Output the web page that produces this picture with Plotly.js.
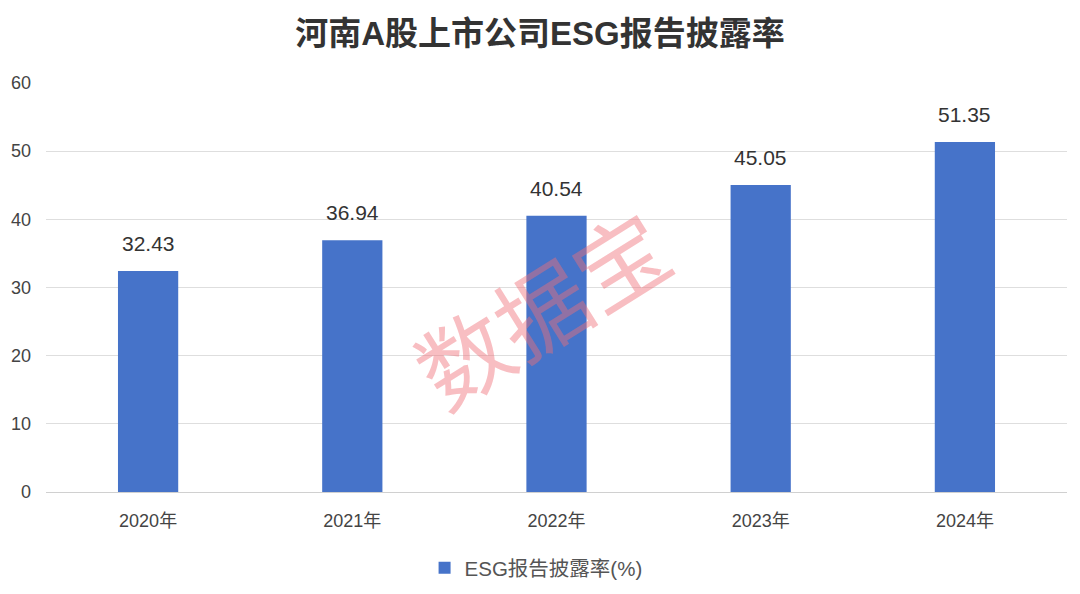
<!DOCTYPE html>
<html>
<head>
<meta charset="utf-8">
<script src="https://cdn.plot.ly/plotly-3.0.1.min.js"></script>
<style>html,body{margin:0;padding:0;background:#fff;}#chart{width:1080px;height:594px;}</style>
</head>
<body>
<div id="chart"></div>
<script>
const categories = ["2020年", "2021年", "2022年", "2023年", "2024年"];
const disclosureRate = [32.43, 36.94, 40.54, 45.05, 51.35];
const seriesName = "ESG报告披露率(%)";
const chartTitle = "河南A股上市公司ESG报告披露率";
const watermark = "数据宝";

const FONT = "'Liberation Sans', Arial, 'Noto Sans CJK SC', sans-serif";

const trace = {
  type: "bar",
  x: categories,
  y: disclosureRate,
  name: seriesName,
  marker: {color: "#4673C9"},
  hoverinfo: "skip"
};

const valueLabels = categories.map((c, i) => ({
  x: c, y: disclosureRate[i], xref: "x", yref: "y",
  text: disclosureRate[i].toFixed(2), showarrow: false,
  yanchor: "bottom", yshift: 14,
  font: {size: 21, color: "#333333", family: FONT}
}));

const layout = {
  width: 1080, height: 594,
  margin: {l: 46, r: 13, t: 83, b: 102},
  paper_bgcolor: "#ffffff", plot_bgcolor: "#ffffff",
  font: {family: FONT, color: "#555555"},
  title: {text: "<b>" + chartTitle + "</b>", x: 0.5, xanchor: "center", y: 0.943, yanchor: "middle",
          font: {size: 33, color: "#333333", family: FONT}},
  bargap: 0.705,
  showlegend: true,
  legend: {orientation: "h", x: 0.48, xanchor: "center", yref: "container", y: 0.044, yanchor: "middle",
           font: {size: 20.5, color: "#555555", family: FONT}},
  xaxis: {type: "category", showgrid: false, zeroline: false, showline: false, automargin: false,
          ticks: "", tickfont: {size: 18, color: "#444444"}, ticklabelstandoff: 16},
  yaxis: {range: [0, 60], dtick: 10, showgrid: true, gridcolor: "#dedede", gridwidth: 1, automargin: false,
          zeroline: true, zerolinecolor: "#d0d0d0", zerolinewidth: 1,
          showline: false, ticks: "", tickfont: {size: 18, color: "#444444"}, ticklabelstandoff: 14},
  annotations: valueLabels.concat([{
    text: watermark, xref: "paper", yref: "paper", x: 0.484, y: 0.455,
    showarrow: false, textangle: -32,
    font: {size: 92, color: "rgba(240,110,120,0.45)", family: "'Noto Sans CJK SC', sans-serif"}
  }])
};

Plotly.newPlot("chart", [trace], layout, {displayModeBar: false, staticPlot: true});
</script>
</body>
</html>
